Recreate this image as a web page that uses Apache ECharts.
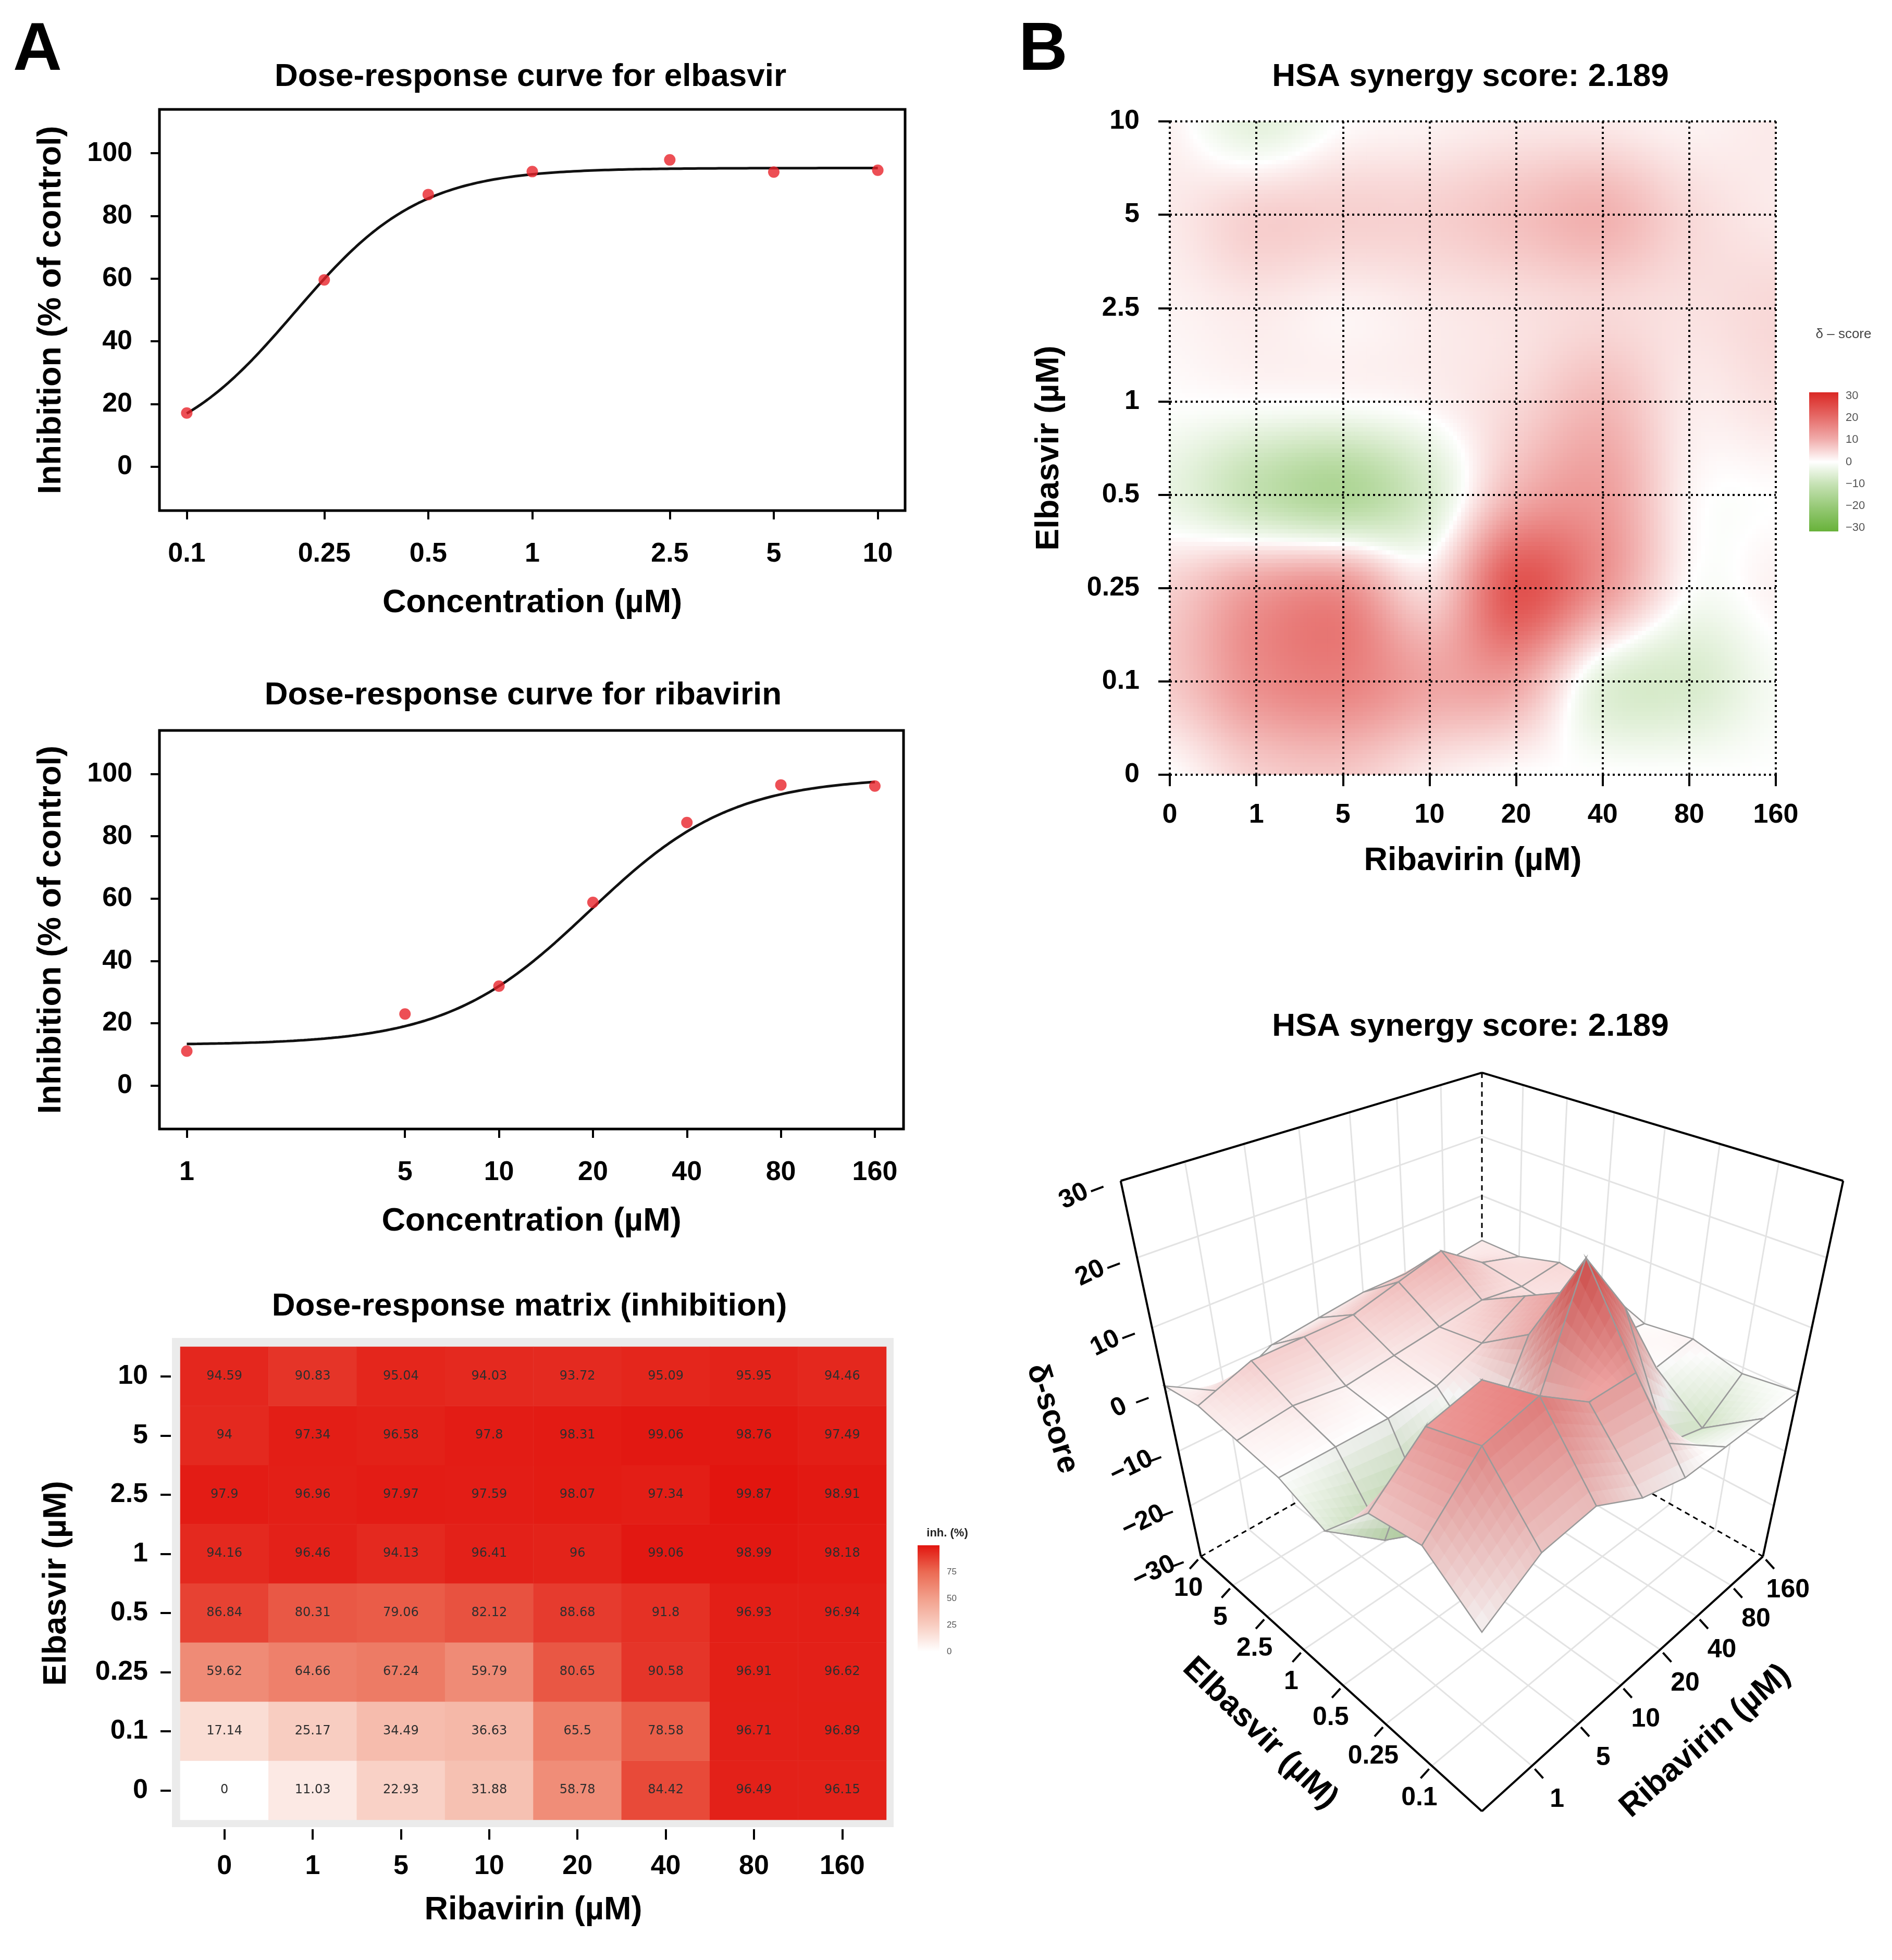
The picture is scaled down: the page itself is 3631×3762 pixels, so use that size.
<!DOCTYPE html>
<html>
<head>
<meta charset="utf-8">
<script src="https://cdn.jsdelivr.net/npm/echarts@6/dist/echarts.min.js"></script>
<style>html,body{margin:0;padding:0;background:#fff}#c{width:3631px;height:3762px}</style>
</head>
<body>
<div id="c"></div>
<script>
// ---------------- DATA ----------------
const elbasvirConc = [0.1, 0.25, 0.5, 1, 2.5, 5, 10];
const elbasvirInhibition = [17.14, 59.62, 86.84, 94.16, 97.9, 94, 94.59];
const ribavirinConc = [1, 5, 10, 20, 40, 80, 160];
const ribavirinInhibition = [11.03, 22.93, 31.88, 58.78, 84.42, 96.49, 96.15];
// fitted 4-parameter log-logistic models (parameters estimated from the drawn curves)
const elbasvirFit = { bottom: 3, top: 95.3, ic50: 0.205, hill: 2.4 };
const ribavirinFit = { bottom: 13, top: 99, ic50: 19.5, hill: 1.9 };
const inhibitionTicks = [0, 20, 40, 60, 80, 100];

const ribavirinLevels = ['0', '1', '5', '10', '20', '40', '80', '160'];
const elbasvirLevels = ['0', '0.1', '0.25', '0.5', '1', '2.5', '5', '10'];
// rows: elbasvir 0 -> 10, columns: ribavirin 0 -> 160
const inhibitionMatrix = [
  [0, 11.03, 22.93, 31.88, 58.78, 84.42, 96.49, 96.15],
  [17.14, 25.17, 34.49, 36.63, 65.5, 78.58, 96.71, 96.89],
  [59.62, 64.66, 67.24, 59.79, 80.65, 90.58, 96.91, 96.62],
  [86.84, 80.31, 79.06, 82.12, 88.68, 91.8, 96.93, 96.94],
  [94.16, 96.46, 94.13, 96.41, 96, 99.06, 98.99, 98.18],
  [97.9, 96.96, 97.97, 97.59, 98.07, 97.34, 99.87, 98.91],
  [94, 97.34, 96.58, 97.8, 98.31, 99.06, 98.76, 97.49],
  [94.59, 90.83, 95.04, 94.03, 93.72, 95.09, 95.95, 94.46]
];
const inhLegendTicks = [0, 25, 50, 75];
// HSA delta scores, rows: elbasvir 0 -> 10, columns: ribavirin 0 -> 160
const deltaMatrix = [
  [0, 5, 6, 2, 0, 0, 0, 0],
  [6, 14, 16, 11, 11, -4, -6, -1],
  [5, 12, 14, 4, 23, 13, 0, 1],
  [-3, -10, -14, -6, 9, 12, 1, 0],
  [0, 0, 0, 1, 4, 8, 2, 3],
  [1, 2, 1, 2, 3, 4, 3, 4],
  [2, 5, 5, 5, 7, 9, 4, 2],
  [1, -4, 0, 1, 2, 2, 1, 2]
];
const deltaTicks = [-30, -20, -10, 0, 10, 20, 30];
const synergyScore = '2.189';

// ---------------- STYLE / LAYOUT ----------------
const FONT = '"Liberation Sans", Arial, Helvetica, sans-serif';
const font = (size, weight) => (weight || 'bold') + ' ' + size + 'px ' + FONT;
const inhStops = [[0, '#ffffff'], [25, '#f8cdc1'], [50, '#f2a08c'], [75, '#eb6a53'], [100, '#e2150f']];
const deltaStops = [[-30, [104, 178, 58]], [0, [255, 255, 255]], [30, [218, 40, 36]]];
const view3D = { cx: 2844, cy: 2672, scale: 429, elevation: 34.2, distance: 4.5 };
const minus = s => String(s).replace('-', '\u2212');

function ll4(f, c) { return f.bottom + (f.top - f.bottom) / (1 + Math.pow(f.ic50 / c, f.hill)); }
function fitCurve(f, lo, hi) {
  const pts = [], N = 200, l0 = Math.log10(lo), l1 = Math.log10(hi);
  for (let i = 0; i <= N; i++) { const x = l0 + (l1 - l0) * i / N; pts.push([x, ll4(f, Math.pow(10, x))]); }
  return pts;
}
function deltaRGB(v) {
  v = Math.max(-30, Math.min(30, v));
  const i = v <= 0 ? 0 : 1;
  const [v0, c0] = deltaStops[i], [v1, c1] = deltaStops[i + 1];
  let t = (v - v0) / (v1 - v0);
  // slightly faster departure from white, as in the reference colour bar
  t = i === 1 ? Math.pow(t, 0.85) : 1 - Math.pow(1 - t, 0.85);
  return [0, 1, 2].map(k => c0[k] + (c1[k] - c0[k]) * t);
}
const rgb = (c, s) => 'rgb(' + c.map(x => Math.round(Math.max(0, Math.min(255, x * (s || 1))))).join(',') + ')';
// piecewise-bilinear surface through the grid values (used by the 3D mesh)
function surfaceZ(ri, ei) {
  const r0 = Math.min(Math.floor(ri), 6), e0 = Math.min(Math.floor(ei), 6);
  const u = ri - r0, v = ei - e0, m = deltaMatrix;
  return (1 - u) * (1 - v) * m[e0][r0] + u * (1 - v) * m[e0][r0 + 1] + (1 - u) * v * m[e0 + 1][r0] + u * v * m[e0 + 1][r0 + 1];
}
// smooth (cubic convolution) shading through the grid values (used by the 2D map)
function cr(p0, p1, p2, p3, t) {
  return p1 + 0.5 * t * (p2 - p0 + t * (2 * p0 - 5 * p1 + 4 * p2 - p3 + t * (3 * (p1 - p2) + p3 - p0)));
}
function smoothZ(ri, ei) {
  const m = deltaMatrix, cl = k => Math.max(0, Math.min(7, k));
  const r1 = Math.min(Math.floor(ri), 6), e1 = Math.min(Math.floor(ei), 6);
  const u = ri - r1, v = ei - e1;
  const rows = [-1, 0, 1, 2].map(de => {
    const row = m[cl(e1 + de)];
    return cr(row[cl(r1 - 1)], row[cl(r1)], row[cl(r1 + 1)], row[cl(r1 + 2)], u);
  });
  return cr(rows[0], rows[1], rows[2], rows[3], v);
}

// 3D projection (box coordinates -> canvas units of a hidden full-page cartesian grid)
const PHI = view3D.elevation * Math.PI / 180, CP = Math.cos(PHI), SP = Math.sin(PHI);
function box(ri, ei, z) { return [ei / 7 * 2 - 1, ri / 7 * 2 - 1, (z + 30) / 30 - 1]; }
function proj3(ri, ei, z) {
  const [a, b, c] = box(ri, ei, z);
  const p = (b - a) / Math.SQRT2, q = -(a + b) / Math.SQRT2;
  const Y = c * CP - q * SP, D = q * CP + c * SP;
  const k = view3D.distance / (view3D.distance - D);
  return [view3D.cx + view3D.scale * k * p, view3D.cy - view3D.scale * k * Y];
}
const P = (api, ri, ei, z) => api.coord(proj3(ri, ei, z));

// ---------------- AXES ----------------
function curveXAxis(gridIndex, conc, min, max) {
  const ticks = conc.map(c => Math.log10(c));
  return {
    type: 'value', gridIndex, min, max,
    axisLine: { show: false, onZero: false }, splitLine: { show: false },
    axisTick: { show: true, customValues: ticks, length: 17, lineStyle: { color: '#000', width: 4 } },
    axisLabel: {
      customValues: ticks, margin: 58, color: '#000', fontSize: 52, fontWeight: 'bold', fontFamily: FONT,
      formatter: v => { const i = ticks.findIndex(t => Math.abs(t - v) < 1e-6); return i >= 0 ? String(conc[i]) : ''; }
    },
    name: 'Concentration (µM)', nameLocation: 'middle', nameGap: 146,
    nameTextStyle: { fontSize: 63, fontWeight: 'bold', color: '#000', fontFamily: FONT }
  };
}
function curveYAxis(gridIndex) {
  return {
    type: 'value', gridIndex, min: -14, max: 114,
    axisLine: { show: false, onZero: false }, splitLine: { show: false },
    axisTick: { show: true, customValues: inhibitionTicks, length: 17, lineStyle: { color: '#000', width: 4 } },
    axisLabel: { customValues: inhibitionTicks, margin: 52, color: '#000', fontSize: 52, fontWeight: 'bold', fontFamily: FONT },
    name: 'Inhibition (% of control)', nameLocation: 'middle', nameGap: 176, nameRotate: 90,
    nameTextStyle: { fontSize: 63, fontWeight: 'bold', color: '#000', fontFamily: FONT }
  };
}
const boldLabel = { color: '#000', fontSize: 52, fontWeight: 'bold', fontFamily: FONT };
const nameStyle = { fontSize: 63, fontWeight: 'bold', color: '#000', fontFamily: FONT };
const blackTick = { color: '#000', width: 4 };

// ---------------- SERIES DATA ----------------
const heatData = [];
inhibitionMatrix.forEach((row, ei) => row.forEach((v, ri) => heatData.push([ri, ei, v])));
const synergyData = [];
deltaMatrix.forEach((row, ei) => row.forEach((v, ri) => synergyData.push([ri, ei, v])));
const surfaceQuads = [];
for (let ei = 0; ei < 7; ei++) for (let ri = 0; ri < 7; ri++) surfaceQuads.push([ri, ei]);
surfaceQuads.sort((A, B) => (B[0] + B[1]) - (A[0] + A[1]));

// ---------------- RENDERERS ----------------
function renderSynergyCell(params, api) {
  const ri = api.value(0), ei = api.value(1);
  if (ri >= 7 || ei >= 7) return null;
  const n = 22, children = [];
  for (let s = 0; s < n; s++) for (let t = 0; t < n; t++) {
    const v = smoothZ(ri + (s + 0.5) / n, ei + (t + 0.5) / n);
    const p0 = api.coord([ri + s / n, ei + (t + 1) / n]);
    const p1 = api.coord([ri + (s + 1) / n, ei + t / n]);
    children.push({ type: 'rect', shape: { x: p0[0], y: p0[1], width: p1[0] - p0[0] + 0.9, height: p1[1] - p0[1] + 0.9 },
      style: { fill: rgb(deltaRGB(v)) } });
  }
  return { type: 'group', children };
}

function renderBoxBack(params, api) {
  const ch = [], grid = '#e3e3e3';
  const L = (a, b, st) => ch.push({ type: 'line', shape: { x1: a[0], y1: a[1], x2: b[0], y2: b[1] }, style: st });
  const gs = { stroke: grid, lineWidth: 3 };
  for (let k = 1; k < 7; k++) {
    L(P(api, k, 7, -30), P(api, k, 7, 30), gs);
    L(P(api, 7, k, -30), P(api, 7, k, 30), gs);
    L(P(api, k, 0, -30), P(api, k, 7, -30), gs);
    L(P(api, 0, k, -30), P(api, 7, k, -30), gs);
  }
  deltaTicks.slice(1, -1).forEach(z => {
    L(P(api, 0, 7, z), P(api, 7, 7, z), gs);
    L(P(api, 7, 0, z), P(api, 7, 7, z), gs);
  });
  const ds = { stroke: '#000', lineWidth: 3, lineDash: [10, 8] };
  L(P(api, 7, 7, 30), P(api, 7, 7, -30), ds);
  L(P(api, 0, 7, -30), P(api, 7, 7, -30), ds);
  L(P(api, 7, 0, -30), P(api, 7, 7, -30), ds);
  return { type: 'group', children: ch };
}

function renderSurfaceQuad(params, api) {
  const ri = api.value(0), ei = api.value(1), base = params.dataIndex * 100;
  const n = 8, subs = [];
  for (let s = 0; s < n; s++) for (let t = 0; t < n; t++) {
    const r0 = ri + s / n, r1 = ri + (s + 1) / n, e0 = ei + t / n, e1 = ei + (t + 1) / n;
    const cs = [[r0, e0], [r1, e0], [r1, e1], [r0, e1]].map(([r, e]) => [r, e, surfaceZ(r, e)]);
    subs.push({ cs, key: r0 + e0 });
  }
  subs.sort((A, B) => B.key - A.key);
  const children = subs.map((sq, idx) => {
    const pts = sq.cs.map(c => P(api, c[0], c[1], c[2]));
    const zc = (sq.cs[0][2] + sq.cs[1][2] + sq.cs[2][2] + sq.cs[3][2]) / 4;
    const A = box(...sq.cs[0]), B = box(...sq.cs[1]), C = box(...sq.cs[2]), D = box(...sq.cs[3]);
    const d1 = [C[0] - A[0], C[1] - A[1], C[2] - A[2]], d2 = [D[0] - B[0], D[1] - B[1], D[2] - B[2]];
    const nx = d1[1] * d2[2] - d1[2] * d2[1], ny = d1[2] * d2[0] - d1[0] * d2[2], nz = d1[0] * d2[1] - d1[1] * d2[0];
    const shade = 0.86 + 0.14 * Math.abs(nz) / Math.hypot(nx, ny, nz);
    const col = rgb(deltaRGB(zc), shade);
    return { type: 'polygon', z2: base + idx, shape: { points: pts }, style: { fill: col, stroke: col, lineWidth: 1.2 } };
  });
  const corners = [[ri, ei], [ri + 1, ei], [ri + 1, ei + 1], [ri, ei + 1]].map(([r, e]) => P(api, r, e, deltaMatrix[e][r]));
  children.push({ type: 'polygon', z2: base + 99, shape: { points: corners }, style: { fill: 'none', stroke: '#9a9a9a', lineWidth: 2.5 } });
  return { type: 'group', children };
}

function renderBoxFront(params, api) {
  const ch = [];
  const L = (a, b, st) => ch.push({ type: 'line', shape: { x1: a[0], y1: a[1], x2: b[0], y2: b[1] }, style: st });
  const T = (x, y, text, size, rot, weight) => ch.push({ type: 'text', x, y, rotation: rot || 0,
    style: { text, font: font(size, weight), fill: '#000', align: 'center', verticalAlign: 'middle' } });
  const es = { stroke: '#000', lineWidth: 4 };
  L(P(api, 0, 7, 30), P(api, 0, 7, -30), es);
  L(P(api, 7, 0, 30), P(api, 7, 0, -30), es);
  L(P(api, 0, 7, 30), P(api, 7, 7, 30), es);
  L(P(api, 7, 7, 30), P(api, 7, 0, 30), es);
  L(P(api, 0, 7, -30), P(api, 0, 0, -30), es);
  L(P(api, 0, 0, -30), P(api, 7, 0, -30), es);
  const ts = { stroke: '#000', lineWidth: 4 };
  deltaTicks.forEach(z => {
    const p = P(api, 0, 7, z);
    L([p[0] - 57, p[1] + 20], [p[0] - 33, p[1] + 11], ts);
    T(p[0] - 90, p[1] + 30, minus(z), 50, 0.45);
  });
  const nE = [-0.671, 0.741], nR = [0.671, 0.741];
  for (let k = 1; k <= 7; k++) {
    const pe = P(api, 0, k, -30);
    L([pe[0] + nE[0] * 8, pe[1] + nE[1] * 8], [pe[0] + nE[0] * 32, pe[1] + nE[1] * 32], ts);
    T(pe[0] - 24, pe[1] + 62, elbasvirLevels[k], 50, 0);
    const pr = P(api, k, 0, -30);
    L([pr[0] + nR[0] * 8, pr[1] + nR[1] * 8], [pr[0] + nR[0] * 32, pr[1] + nR[1] * 32], ts);
    T(pr[0] + 48, pr[1] + 65, ribavirinLevels[k], 50, 0);
  }
  T(2019, 2723, 'δ-score', 60, -1.27);
  T(2418, 3327, 'Elbasvir (µM)', 62, -0.77);
  T(3273, 3342, 'Ribavirin (µM)', 62, 0.72);
  return { type: 'group', children: ch };
}

// ---------------- LEGENDS & TITLES (graphic) ----------------
const gfx = [];
const gText = (x, y, text, f, fill, align) => gfx.push({ type: 'text', x, y, z: 10,
  style: { text, font: f, fill: fill || '#000', align: align || 'center', verticalAlign: 'middle' } });
gText(72, 98, 'A', font(130));
gText(2002, 98, 'B', font(130));
gText(1018, 148, 'Dose-response curve for elbasvir', font(62));
gText(1004, 1335, 'Dose-response curve for ribavirin', font(62));
gText(1016, 2508, 'Dose-response matrix (inhibition)', font(62));
gText(2822, 148, 'HSA synergy score: ' + synergyScore, font(62));
gText(2822, 1971, 'HSA synergy score: ' + synergyScore, font(62));
gfx.push({ type: 'rect', z: 0, shape: { x: 330, y: 2568, width: 1385, height: 939 }, style: { fill: '#ebebeb' } });
gText(1818, 2943, 'inh. (%)', font(22), '#222');
gfx.push({ type: 'rect', z: 1, shape: { x: 1761, y: 2966, width: 42, height: 204 },
  style: { fill: { type: 'linear', x: 0, y: 0, x2: 0, y2: 1, colorStops: inhStops.slice().reverse().map(s => ({ offset: 1 - s[0] / 100, color: s[1] })) } } });
inhLegendTicks.forEach(v => gText(1817, 3170 - v / 100 * 204, String(v), font(17, 'normal'), '#555', 'left'));
gText(3538, 642, 'δ \u2013 score', font(26, 'normal'), '#444');
gfx.push({ type: 'rect', z: 1, shape: { x: 3472, y: 753, width: 56, height: 267 },
  style: { fill: { type: 'linear', x: 0, y: 0, x2: 0, y2: 1,
    colorStops: [30, 20, 10, 0, -10, -20, -30].map(v => ({ offset: (30 - v) / 60, color: rgb(deltaRGB(v)) })) } } });
deltaTicks.forEach(v => gText(3542, 760 + (30 - v) / 60 * 253, minus(v), font(22, 'normal'), '#555', 'left'));

// ---------------- OPTION ----------------
const option = {
  animation: false,
  backgroundColor: '#ffffff',
  textStyle: { fontFamily: FONT },
  grid: [
    { left: 306, top: 210, width: 1431, height: 770, show: true, borderColor: '#000', borderWidth: 5, backgroundColor: 'transparent' },
    { left: 306, top: 1402, width: 1428, height: 765, show: true, borderColor: '#000', borderWidth: 5, backgroundColor: 'transparent' },
    { left: 346, top: 2585, width: 1355, height: 908 },
    { left: 2245, top: 233, width: 1163, height: 1254 },
    { left: 0, top: 0, width: 3631, height: 3762 }
  ],
  xAxis: [
    curveXAxis(0, elbasvirConc, -1.079, 1.079),
    curveXAxis(1, ribavirinConc, -0.0876, 2.296),
    { type: 'category', gridIndex: 2, data: ribavirinLevels, offset: 18, axisLine: { show: false },
      axisTick: { show: true, alignWithLabel: true, length: 20, lineStyle: blackTick },
      axisLabel: Object.assign({ margin: 46 }, boldLabel), splitLine: { show: false },
      name: 'Ribavirin (µM)', nameLocation: 'middle', nameGap: 124, nameTextStyle: nameStyle },
    { type: 'value', gridIndex: 3, min: 0, max: 7, interval: 1, z: 10, axisLine: { show: false, onZero: false },
      axisTick: { show: true, length: 22, lineStyle: blackTick },
      axisLabel: Object.assign({ margin: 52, formatter: v => ribavirinLevels[Math.round(v)] }, boldLabel),
      splitLine: { show: true, lineStyle: { color: '#000', width: 4, type: [4, 6] } },
      name: 'Ribavirin (µM)', nameLocation: 'middle', nameGap: 134, nameTextStyle: nameStyle },
    { type: 'value', gridIndex: 4, min: 0, max: 3631, show: false }
  ],
  yAxis: [
    curveYAxis(0),
    curveYAxis(1),
    { type: 'category', gridIndex: 2, data: elbasvirLevels, offset: 18, axisLine: { show: false },
      axisTick: { show: true, alignWithLabel: true, length: 20, lineStyle: blackTick },
      axisLabel: Object.assign({ margin: 44 }, boldLabel), splitLine: { show: false },
      name: 'Elbasvir (µM)', nameLocation: 'middle', nameGap: 188, nameRotate: 90, nameTextStyle: nameStyle },
    { type: 'value', gridIndex: 3, min: 0, max: 7, interval: 1, z: 10, axisLine: { show: false, onZero: false },
      axisTick: { show: true, length: 22, lineStyle: blackTick },
      axisLabel: Object.assign({ margin: 58, formatter: v => elbasvirLevels[Math.round(v)] }, boldLabel),
      splitLine: { show: true, lineStyle: { color: '#000', width: 4, type: [4, 6] } },
      name: 'Elbasvir (µM)', nameLocation: 'middle', nameGap: 200, nameRotate: 90, nameTextStyle: nameStyle },
    { type: 'value', gridIndex: 4, min: 0, max: 3762, inverse: true, show: false }
  ],
  visualMap: [{
    type: 'continuous', show: false, min: 0, max: 100, dimension: 2, seriesIndex: 4,
    inRange: { color: inhStops.map(s => s[1]) }
  }],
  graphic: gfx,
  series: [
    { type: 'line', xAxisIndex: 0, yAxisIndex: 0, data: fitCurve(elbasvirFit, elbasvirConc[0], elbasvirConc[6]),
      showSymbol: false, smooth: false, lineStyle: { color: '#111', width: 5 }, silent: true, z: 3 },
    { type: 'scatter', xAxisIndex: 0, yAxisIndex: 0, data: elbasvirConc.map((c, i) => [Math.log10(c), elbasvirInhibition[i]]),
      symbolSize: 22, itemStyle: { color: '#e8232a' }, silent: true, z: 4 },
    { type: 'line', xAxisIndex: 1, yAxisIndex: 1, data: fitCurve(ribavirinFit, ribavirinConc[0], ribavirinConc[6]),
      showSymbol: false, smooth: false, lineStyle: { color: '#111', width: 5 }, silent: true, z: 3 },
    { type: 'scatter', xAxisIndex: 1, yAxisIndex: 1, data: ribavirinConc.map((c, i) => [Math.log10(c), ribavirinInhibition[i]]),
      symbolSize: 22, itemStyle: { color: '#e8232a' }, silent: true, z: 4 },
    { type: 'heatmap', xAxisIndex: 2, yAxisIndex: 2, data: heatData, silent: true,
      label: { show: true, formatter: p => String(p.value[2]), fontSize: 24, color: '#2e2e2e', fontFamily: '"DejaVu Sans", sans-serif' } },
    { type: 'custom', xAxisIndex: 3, yAxisIndex: 3, data: synergyData, renderItem: renderSynergyCell, clip: true, silent: true, z: 2 },
    { type: 'custom', xAxisIndex: 4, yAxisIndex: 4, data: [[0, 0]], renderItem: renderBoxBack, silent: true, z: 2 },
    { type: 'custom', xAxisIndex: 4, yAxisIndex: 4, data: surfaceQuads, renderItem: renderSurfaceQuad, silent: true, z: 3 },
    { type: 'custom', xAxisIndex: 4, yAxisIndex: 4, data: [[0, 0]], renderItem: renderBoxFront, silent: true, z: 4 }
  ]
};
const chart = echarts.init(document.getElementById('c'), null, { width: 3631, height: 3762 });
chart.setOption(option);
</script>
</body>
</html>
